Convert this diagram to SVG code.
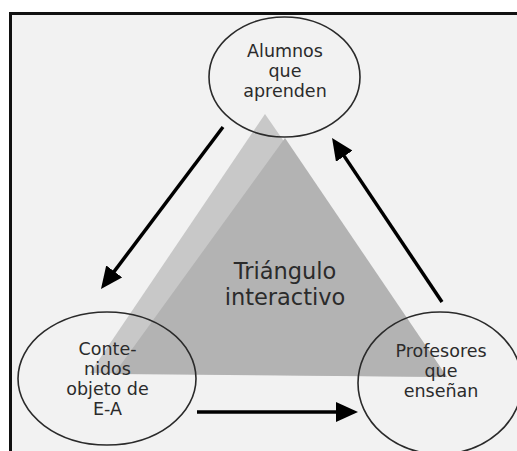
<svg xmlns="http://www.w3.org/2000/svg" width="517" height="451" viewBox="0 0 517 451">
<defs>
<style>
.node{fill:none;stroke:#2a2a2a;stroke-width:1.6}
.lbl{font-family:"DejaVu Sans",Verdana,sans-serif;font-size:17.5px;fill:#2b2b2b;text-anchor:middle}
.big{font-family:"DejaVu Sans",Verdana,sans-serif;font-size:22.5px;fill:#2b2b2b;text-anchor:middle}
.conn{stroke:#000;stroke-width:3.5;fill:none}
</style>
<marker id="ah" markerUnits="userSpaceOnUse" markerWidth="22" markerHeight="20" refX="14" refY="10" orient="auto" viewBox="0 0 22 20">
<path d="M0,0 L22,10 L0,20 z" fill="#000"/>
</marker>
</defs>
<rect x="0" y="0" width="517" height="451" fill="#fff"/>
<rect x="10.5" y="13.5" width="520" height="450" fill="#f2f2f2" stroke="#111" stroke-width="3"/>
<g id="triangle">
<polygon points="265,114 90,373 447,377" fill="#c8c8c8"/>
<polygon points="285,138 114,374 447,377" fill="#b3b3b3"/>
<text class="big" x="285" y="279">Triángulo</text>
<text class="big" x="285" y="305">interactivo</text>
</g>
<g id="connectors">
<line class="conn" x1="223" y1="127" x2="105.8" y2="282.6" marker-end="url(#ah)"/>
<line class="conn" x1="442" y1="302" x2="336.5" y2="144.6" marker-end="url(#ah)"/>
<line class="conn" x1="197" y1="412" x2="350" y2="412" marker-end="url(#ah)"/>
</g>
<g id="alumnos">
<ellipse class="node" cx="284.5" cy="77" rx="75.5" ry="60"/>
<text class="lbl" x="285" y="57">Alumnos</text>
<text class="lbl" x="285" y="77">que</text>
<text class="lbl" x="285" y="97">aprenden</text>
</g>
<g id="contenidos">
<ellipse class="node" cx="107" cy="378.5" rx="89" ry="66.5"/>
<text class="lbl" x="107.5" y="355">Conte-</text>
<text class="lbl" x="107.5" y="375">nidos</text>
<text class="lbl" x="107.5" y="395">objeto de</text>
<text class="lbl" x="107.5" y="415">E-A</text>
</g>
<g id="profesores">
<ellipse class="node" cx="440" cy="383" rx="82" ry="71"/>
<text class="lbl" x="441" y="357">Profesores</text>
<text class="lbl" x="441" y="377">que</text>
<text class="lbl" x="441" y="397">enseñan</text>
</g>
</svg>
